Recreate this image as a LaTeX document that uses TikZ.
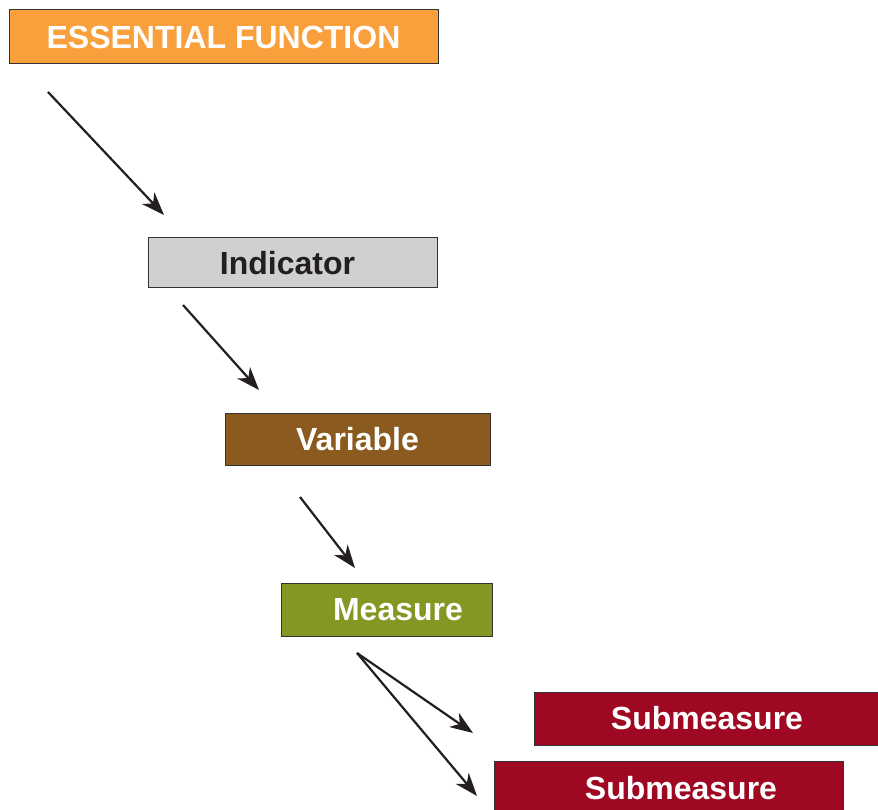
\documentclass[tikz,border=0pt]{standalone}
\usepackage{fontspec}
\setmainfont{Liberation Sans}
\usetikzlibrary{arrows.meta}
\definecolor{efOrange}{HTML}{F9A03C}
\definecolor{indGray}{HTML}{D0D0D2}
\definecolor{varBrown}{HTML}{8B5A1F}
\definecolor{meaGreen}{HTML}{829822}
\definecolor{subRed}{HTML}{9E0822}
\definecolor{edgeGray}{HTML}{333333}
\definecolor{txtDark}{HTML}{231F20}
\tikzset{
  box/.style={rectangle, draw=edgeGray, line width=1pt, inner sep=0pt,
    font=\fontsize{32}{34}\selectfont\bfseries, text=white},
  conn/.style={draw=txtDark, line width=2.2pt,
    -{Stealth[length=23pt, width=17pt, inset=7pt]}}
}
\begin{document}
\begin{tikzpicture}[x=1pt, y=-1pt]
\useasboundingbox (0,0) rectangle (878,810);
\begin{scope}
\clip (0,0) rectangle (878,810);
\node[box, fill=efOrange, minimum width=429, minimum height=54] (ef) at (223.5,37) {ESSENTIAL FUNCTION};
\node[box, fill=indGray, text=txtDark, minimum width=289, minimum height=50] (ind) at (292.5,263) {\hspace*{-10pt}Indicator};
\node[box, fill=varBrown, minimum width=265, minimum height=52] (var) at (357.5,439) {Variable};
\node[box, fill=meaGreen, minimum width=211, minimum height=53] (mea) at (386.5,610) {\hspace*{23pt}Measure};
\node[box, fill=subRed, minimum width=346, minimum height=53] (sub1) at (707,718.5) {Submeasure};
\node[box, fill=subRed, minimum width=349, minimum height=54] (sub2) at (668.5,788) {\hspace*{25pt}Submeasure};
\end{scope}
\coordinate (a1s) at (48,92);   \coordinate (a1e) at (164,215);
\coordinate (a2s) at (183,305); \coordinate (a2e) at (259,390);
\coordinate (a3s) at (300,497); \coordinate (a3e) at (355,568);
\coordinate (a4s) at (357,653); \coordinate (a4e) at (473,733);
\coordinate (a5e) at (477,796);
\draw[conn] (a1s) -- (a1e);
\draw[conn] (a2s) -- (a2e);
\draw[conn] (a3s) -- (a3e);
\draw[conn] (a4s) -- (a4e);
\draw[conn] (a4s) -- (a5e);
\end{tikzpicture}
\end{document}
